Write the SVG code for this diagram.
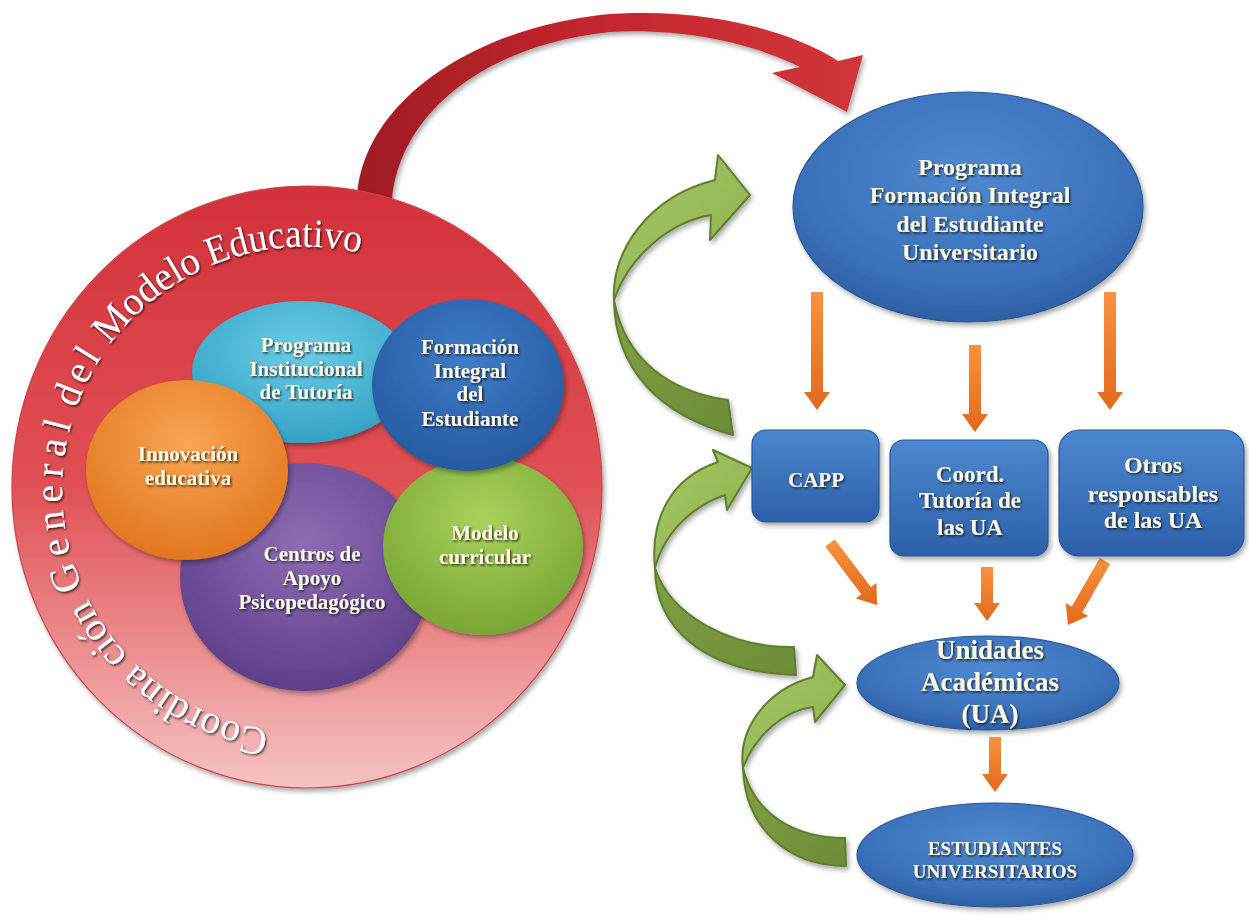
<svg xmlns="http://www.w3.org/2000/svg" width="1249" height="918" viewBox="0 0 1249 918">
<style>
.t{font-family:"Liberation Serif","DejaVu Serif",serif;font-weight:bold;fill:#fdf8e4;text-anchor:middle;filter:url(#ts)}
.s21{font-size:21px}
.s23{font-size:23px}
.s24{font-size:24px}
.s27{font-size:27px}
.s19{font-size:19px}
.arc{font-family:"Liberation Serif","DejaVu Serif",serif;font-size:40px;fill:#ffffff;filter:url(#ts)}
.oa{fill:url(#gOr)}
.gl{fill:url(#gGL);stroke:#5f7f2b;stroke-width:2;stroke-linejoin:round}
.gd{fill:url(#gGD);stroke:#5f7f2b;stroke-width:2;stroke-linejoin:round}
.bn{fill:url(#gBlue);stroke:#2a5896;stroke-width:1.2;filter:url(#sh)}
.bx{fill:url(#gBox);stroke:#2a5896;stroke-width:1.2;filter:url(#sh)}
</style>
<defs>
<linearGradient id="gRed" x1="0" y1="0" x2="0" y2="1">
<stop offset="0" stop-color="#d3303a"/>
<stop offset="0.5" stop-color="#e05155"/>
<stop offset="1" stop-color="#f5c3c3"/>
</linearGradient>
<linearGradient id="gArrowRed" x1="0" y1="0" x2="1" y2="0">
<stop offset="0" stop-color="#9f1d24"/>
<stop offset="0.5" stop-color="#c6262e"/>
<stop offset="1" stop-color="#d0363a"/>
</linearGradient>
<radialGradient id="gBlue" cx="0.5" cy="0.35" r="0.7">
<stop offset="0" stop-color="#4f89d0"/>
<stop offset="0.7" stop-color="#3a70b9"/>
<stop offset="1" stop-color="#2a5a9c"/>
</radialGradient>
<linearGradient id="gBox" x1="0" y1="0" x2="0" y2="1">
<stop offset="0" stop-color="#4c88cf"/>
<stop offset="1" stop-color="#2c60a8"/>
</linearGradient>
<radialGradient id="gCyan" cx="0.5" cy="0.35" r="0.7">
<stop offset="0" stop-color="#6ccde6"/>
<stop offset="1" stop-color="#2f9fc2"/>
</radialGradient>
<radialGradient id="gDB" cx="0.5" cy="0.35" r="0.7">
<stop offset="0" stop-color="#3f7cc8"/>
<stop offset="1" stop-color="#24579c"/>
</radialGradient>
<radialGradient id="gOrC" cx="0.5" cy="0.35" r="0.7">
<stop offset="0" stop-color="#f9a653"/>
<stop offset="1" stop-color="#e0721b"/>
</radialGradient>
<radialGradient id="gPur" cx="0.5" cy="0.35" r="0.7">
<stop offset="0" stop-color="#8d6db3"/>
<stop offset="1" stop-color="#5b3b87"/>
</radialGradient>
<radialGradient id="gGrn" cx="0.5" cy="0.35" r="0.7">
<stop offset="0" stop-color="#aad35d"/>
<stop offset="1" stop-color="#74a230"/>
</radialGradient>
<linearGradient id="gOr" x1="0" y1="0" x2="0" y2="1">
<stop offset="0" stop-color="#f8933f"/>
<stop offset="1" stop-color="#e2691c"/>
</linearGradient>
<linearGradient id="gGL" x1="0" y1="0" x2="1" y2="1">
<stop offset="0" stop-color="#a6c865"/>
<stop offset="1" stop-color="#8db04e"/>
</linearGradient>
<linearGradient id="gGD" x1="0" y1="0" x2="1" y2="1">
<stop offset="0" stop-color="#819f45"/>
<stop offset="1" stop-color="#6c8c36"/>
</linearGradient>
<filter id="sh" x="-20%" y="-20%" width="140%" height="140%">
<feDropShadow dx="2" dy="3" stdDeviation="2.5" flood-color="#000" flood-opacity="0.35"/>
</filter>
<filter id="ts" x="-10%" y="-20%" width="120%" height="150%">
<feDropShadow dx="1.2" dy="1.5" stdDeviation="0.8" flood-color="#000" flood-opacity="0.75"/>
</filter>
<path id="arcPath" d="M 269,730 A 243,243 0 1 1 390,262"/>
</defs>

<g id="connectors">
<path id="red-arrow" d="M 357,200 C 360,110 460,32 600,15 C 700,6 790,30 838,61 L 863,55 L 847,112 L 772,73 L 800,67 C 750,42 680,28 610,32 C 490,44 400,110 392,200 Z" fill="url(#gArrowRed)" filter="url(#sh)"/>
<g id="green-arrow-1" filter="url(#sh)">
<path class="gd" d="M 614,300 C 615,370 660,415 733,435 L 728,400 C 670,392 625,360 614,300 Z"/>
<path class="gl" d="M 614,300 C 611,250 650,196 715,180 L 718,155 L 750,195 L 710,240 L 711,215 C 670,222 630,255 614,300 Z"/>
</g>
<g id="green-arrow-2" filter="url(#sh)">
<path class="gd" d="M 655,568 C 655,625 700,672 796,675 L 794,647 C 730,648 670,615 655,568 Z"/>
<path class="gl" d="M 655,568 C 650,520 670,478 718,462 L 713,450 L 752,468 L 727,510 L 725,495 C 695,505 665,530 655,568 Z"/>
</g>
<g id="green-arrow-3" filter="url(#sh)">
<path class="gd" d="M 743,768 C 745,830 790,866 846,866 L 845,838 C 795,838 755,815 743,768 Z"/>
<path class="gl" d="M 743,768 C 738,730 765,690 813,677 L 817,655 L 845,685 L 815,722 L 813,707 C 785,710 755,735 743,768 Z"/>
</g>
<polygon class="oa" points="811,292 823,292 823,392 830,392 817,410 804,392 811,392"/>
<polygon class="oa" points="969,345 981,345 981,414 988,414 975,432 962,414 969,414"/>
<polygon class="oa" points="1104,292 1116,292 1116,392 1123,392 1110,410 1097,392 1104,392"/>
<polygon class="oa" points="825.2,546.6 861.3,594.3 855.8,598.5 877,605 876.5,582.8 870.9,587 834.8,539.4"/>
<polygon class="oa" points="981,567 993,567 993,603 1000,603 987,621 974,603 981,603"/>
<polygon class="oa" points="1099.8,558 1071.8,606.4 1065.7,602.9 1068,625 1088.3,615.9 1082.2,612.4 1110.2,564"/>
<polygon class="oa" points="989,737 1001,737 1001,774 1008,774 995,792 982,774 989,774"/>
</g>

<g id="coordinacion">
<ellipse cx="307" cy="487" rx="295" ry="301" fill="url(#gRed)" stroke="#c8454a" stroke-width="1.2" filter="url(#sh)"/>
<text class="arc"><textPath href="#arcPath" startOffset="0" textLength="152" lengthAdjust="spacing">Coordina</textPath></text>
<text class="arc"><textPath href="#arcPath" startOffset="162" textLength="70" lengthAdjust="spacing">ción</textPath></text>
<text class="arc"><textPath href="#arcPath" startOffset="245" textLength="168" lengthAdjust="spacing">General</textPath></text>
<text class="arc"><textPath href="#arcPath" startOffset="428" textLength="58" lengthAdjust="spacing">del</textPath></text>
<text class="arc"><textPath href="#arcPath" startOffset="500" textLength="122" lengthAdjust="spacing">Modelo</textPath></text>
<text class="arc"><textPath href="#arcPath" startOffset="630" textLength="152" lengthAdjust="spacingAndGlyphs">Educativo</textPath></text>
</g>

<g id="programa-tutoria">
<ellipse cx="302" cy="372" rx="110" ry="71" fill="url(#gCyan)" filter="url(#sh)"/>
<text class="t s21" x="306" y="352">Programa</text>
<text class="t s21" x="306" y="376">Institucional</text>
<text class="t s21" x="306" y="399">de Tutoría</text>
</g>
<g id="centros-apoyo">
<ellipse cx="305" cy="577" rx="125" ry="114" fill="url(#gPur)" filter="url(#sh)"/>
<text class="t s21" x="312" y="561">Centros de</text>
<text class="t s21" x="312" y="585">Apoyo</text>
<text class="t s21" x="312" y="609">Psicopedagógico</text>
</g>
<g id="modelo-curricular">
<ellipse cx="483" cy="546" rx="100" ry="89" fill="url(#gGrn)" filter="url(#sh)"/>
<text class="t s21" x="485" y="540">Modelo</text>
<text class="t s21" x="485" y="564">curricular</text>
</g>
<g id="formacion-integral">
<ellipse cx="468" cy="385" rx="96" ry="86" fill="url(#gDB)" filter="url(#sh)"/>
<text class="t s21" x="470" y="354">Formación</text>
<text class="t s21" x="470" y="378">Integral</text>
<text class="t s21" x="470" y="401">del</text>
<text class="t s21" x="470" y="426">Estudiante</text>
</g>
<g id="innovacion">
<ellipse cx="187" cy="470" rx="101" ry="90" fill="url(#gOrC)" filter="url(#sh)"/>
<text class="t s21" x="188" y="461">Innovación</text>
<text class="t s21" x="188" y="485">educativa</text>
</g>

<g id="programa-fieu">
<ellipse class="bn" cx="968" cy="207" rx="175" ry="115"/>
<text class="t s24" x="970" y="175">Programa</text>
<text class="t s24" x="970" y="203">Formación Integral</text>
<text class="t s24" x="970" y="232">del Estudiante</text>
<text class="t s24" x="970" y="260">Universitario</text>
</g>
<g id="capp">
<rect class="bx" x="752" y="430" width="127" height="92" rx="14"/>
<text class="t s21" x="816" y="487">CAPP</text>
</g>
<g id="coord-tutoria">
<rect class="bx" x="890" y="440" width="158" height="116" rx="14"/>
<text class="t s23" x="970" y="482">Coord.</text>
<text class="t s23" x="970" y="508">Tutoría de</text>
<text class="t s23" x="970" y="535">las UA</text>
</g>
<g id="otros-responsables">
<rect class="bx" x="1059" y="430" width="185" height="126" rx="20"/>
<text class="t s24" x="1153" y="473">Otros</text>
<text class="t s24" x="1153" y="502">responsables</text>
<text class="t s24" x="1153" y="528">de las UA</text>
</g>
<g id="unidades-academicas">
<ellipse class="bn" cx="988" cy="683" rx="131" ry="47"/>
<text class="t s27" x="990" y="659">Unidades</text>
<text class="t s27" x="990" y="691">Académicas</text>
<text class="t s27" x="990" y="723">(UA)</text>
</g>
<g id="estudiantes">
<ellipse class="bn" cx="995" cy="855" rx="138" ry="52"/>
<text class="t s19" x="995" y="855">ESTUDIANTES</text>
<text class="t s19" x="995" y="878">UNIVERSITARIOS</text>
</g>
</svg>
